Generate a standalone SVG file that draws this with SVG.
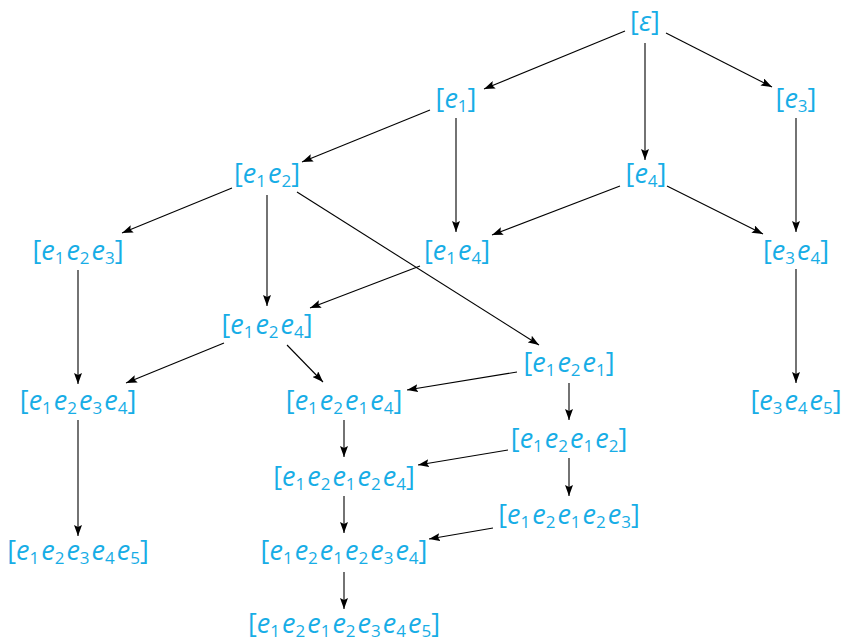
<svg xmlns="http://www.w3.org/2000/svg" width="843" height="643" viewBox="0 0 843 643">
  <style>
    .lbl { font-family: "Open Sans", "Noto Sans", sans-serif; font-size: 27px; fill: #17ADE6; text-anchor: middle; }
    .v { font-style: italic; }
    .s { font-size: 17px; }
    .edge { stroke: #000; stroke-width: 1.1; fill: none; marker-end: url(#tip); }
  </style>
  <defs>
    <marker id="tip" markerUnits="userSpaceOnUse" markerWidth="11" markerHeight="8" refX="11" refY="4" orient="auto">
      <path d="M0,0 L11,4 L0,8 L2,4 z" fill="#000"/>
    </marker>
  </defs>

  <g id="connectors">
    <path class="edge" d="M625,31 L484,89"/>
    <path class="edge" d="M645,43 L645,160"/>
    <path class="edge" d="M666,33 L772,87"/>
    <path class="edge" d="M430,110 L302,162"/>
    <path class="edge" d="M456,118 L456,232"/>
    <path class="edge" d="M796,118 L796,232"/>
    <path class="edge" d="M620,186 L492,235"/>
    <path class="edge" d="M667,186 L763,234"/>
    <path class="edge" d="M232,188 L122,233"/>
    <path class="edge" d="M267,195 L267,306"/>
    <path class="edge" d="M297,192 L539,345"/>
    <path class="edge" d="M420,266 L310,308"/>
    <path class="edge" d="M796,269 L796,383"/>
    <path class="edge" d="M78,270 L78,384"/>
    <path class="edge" d="M224,343 L126,383"/>
    <path class="edge" d="M287,345 L323,382"/>
    <path class="edge" d="M517,372 L407,390"/>
    <path class="edge" d="M569,383 L569,420"/>
    <path class="edge" d="M78,420 L78,536"/>
    <path class="edge" d="M344,420 L344,457"/>
    <path class="edge" d="M508,450 L418,465"/>
    <path class="edge" d="M569,458 L569,496"/>
    <path class="edge" d="M344,496 L344,533"/>
    <path class="edge" d="M493,528 L429,539"/>
    <path class="edge" d="M344,572 L344,609"/>
  </g>

  <g id="n-eps"><text class="lbl" x="645" y="31">[<tspan class="v">ε</tspan>]</text></g>
  <g id="n-e1"><text class="lbl" x="456" y="108">[<tspan class="v">e</tspan><tspan class="s" dy="4">1</tspan><tspan dy="-4">]</tspan></text></g>
  <g id="n-e3"><text class="lbl" x="796" y="108">[<tspan class="v">e</tspan><tspan class="s" dy="4">3</tspan><tspan dy="-4">]</tspan></text></g>
  <g id="n-e4"><text class="lbl" x="646" y="183">[<tspan class="v">e</tspan><tspan class="s" dy="4">4</tspan><tspan dy="-4">]</tspan></text></g>
  <g id="n-e1e2"><text class="lbl" x="267" y="183">[<tspan class="v">e</tspan><tspan class="s" dy="4">1</tspan><tspan class="v" dx="2" dy="-4">e</tspan><tspan class="s" dy="4">2</tspan><tspan dy="-4">]</tspan></text></g>
  <g id="n-e1e2e3"><text class="lbl" x="78" y="260">[<tspan class="v">e</tspan><tspan class="s" dy="4">1</tspan><tspan class="v" dx="2" dy="-4">e</tspan><tspan class="s" dy="4">2</tspan><tspan class="v" dx="2" dy="-4">e</tspan><tspan class="s" dy="4">3</tspan><tspan dy="-4">]</tspan></text></g>
  <g id="n-e1e4"><text class="lbl" x="457" y="260">[<tspan class="v">e</tspan><tspan class="s" dy="4">1</tspan><tspan class="v" dx="2" dy="-4">e</tspan><tspan class="s" dy="4">4</tspan><tspan dy="-4">]</tspan></text></g>
  <g id="n-e3e4"><text class="lbl" x="796" y="260">[<tspan class="v">e</tspan><tspan class="s" dy="4">3</tspan><tspan class="v" dx="2" dy="-4">e</tspan><tspan class="s" dy="4">4</tspan><tspan dy="-4">]</tspan></text></g>
  <g id="n-e1e2e4"><text class="lbl" x="267" y="334">[<tspan class="v">e</tspan><tspan class="s" dy="4">1</tspan><tspan class="v" dx="2" dy="-4">e</tspan><tspan class="s" dy="4">2</tspan><tspan class="v" dx="2" dy="-4">e</tspan><tspan class="s" dy="4">4</tspan><tspan dy="-4">]</tspan></text></g>
  <g id="n-e1e2e1"><text class="lbl" x="569" y="372">[<tspan class="v">e</tspan><tspan class="s" dy="4">1</tspan><tspan class="v" dx="2" dy="-4">e</tspan><tspan class="s" dy="4">2</tspan><tspan class="v" dx="2" dy="-4">e</tspan><tspan class="s" dy="4">1</tspan><tspan dy="-4">]</tspan></text></g>
  <g id="n-e1e2e3e4"><text class="lbl" x="78" y="410">[<tspan class="v">e</tspan><tspan class="s" dy="4">1</tspan><tspan class="v" dx="2" dy="-4">e</tspan><tspan class="s" dy="4">2</tspan><tspan class="v" dx="2" dy="-4">e</tspan><tspan class="s" dy="4">3</tspan><tspan class="v" dx="2" dy="-4">e</tspan><tspan class="s" dy="4">4</tspan><tspan dy="-4">]</tspan></text></g>
  <g id="n-e1e2e1e4"><text class="lbl" x="344" y="410">[<tspan class="v">e</tspan><tspan class="s" dy="4">1</tspan><tspan class="v" dx="2" dy="-4">e</tspan><tspan class="s" dy="4">2</tspan><tspan class="v" dx="2" dy="-4">e</tspan><tspan class="s" dy="4">1</tspan><tspan class="v" dx="2" dy="-4">e</tspan><tspan class="s" dy="4">4</tspan><tspan dy="-4">]</tspan></text></g>
  <g id="n-e3e4e5"><text class="lbl" x="796" y="410">[<tspan class="v">e</tspan><tspan class="s" dy="4">3</tspan><tspan class="v" dx="2" dy="-4">e</tspan><tspan class="s" dy="4">4</tspan><tspan class="v" dx="2" dy="-4">e</tspan><tspan class="s" dy="4">5</tspan><tspan dy="-4">]</tspan></text></g>
  <g id="n-e1e2e1e2"><text class="lbl" x="569" y="448">[<tspan class="v">e</tspan><tspan class="s" dy="4">1</tspan><tspan class="v" dx="2" dy="-4">e</tspan><tspan class="s" dy="4">2</tspan><tspan class="v" dx="2" dy="-4">e</tspan><tspan class="s" dy="4">1</tspan><tspan class="v" dx="2" dy="-4">e</tspan><tspan class="s" dy="4">2</tspan><tspan dy="-4">]</tspan></text></g>
  <g id="n-e1e2e1e2e4"><text class="lbl" x="344" y="486">[<tspan class="v">e</tspan><tspan class="s" dy="4">1</tspan><tspan class="v" dx="2" dy="-4">e</tspan><tspan class="s" dy="4">2</tspan><tspan class="v" dx="2" dy="-4">e</tspan><tspan class="s" dy="4">1</tspan><tspan class="v" dx="2" dy="-4">e</tspan><tspan class="s" dy="4">2</tspan><tspan class="v" dx="2" dy="-4">e</tspan><tspan class="s" dy="4">4</tspan><tspan dy="-4">]</tspan></text></g>
  <g id="n-e1e2e1e2e3"><text class="lbl" x="569" y="524">[<tspan class="v">e</tspan><tspan class="s" dy="4">1</tspan><tspan class="v" dx="2" dy="-4">e</tspan><tspan class="s" dy="4">2</tspan><tspan class="v" dx="2" dy="-4">e</tspan><tspan class="s" dy="4">1</tspan><tspan class="v" dx="2" dy="-4">e</tspan><tspan class="s" dy="4">2</tspan><tspan class="v" dx="2" dy="-4">e</tspan><tspan class="s" dy="4">3</tspan><tspan dy="-4">]</tspan></text></g>
  <g id="n-e1e2e3e4e5"><text class="lbl" x="78" y="560">[<tspan class="v">e</tspan><tspan class="s" dy="4">1</tspan><tspan class="v" dx="2" dy="-4">e</tspan><tspan class="s" dy="4">2</tspan><tspan class="v" dx="2" dy="-4">e</tspan><tspan class="s" dy="4">3</tspan><tspan class="v" dx="2" dy="-4">e</tspan><tspan class="s" dy="4">4</tspan><tspan class="v" dx="2" dy="-4">e</tspan><tspan class="s" dy="4">5</tspan><tspan dy="-4">]</tspan></text></g>
  <g id="n-e1e2e1e2e3e4"><text class="lbl" x="344" y="560">[<tspan class="v">e</tspan><tspan class="s" dy="4">1</tspan><tspan class="v" dx="2" dy="-4">e</tspan><tspan class="s" dy="4">2</tspan><tspan class="v" dx="2" dy="-4">e</tspan><tspan class="s" dy="4">1</tspan><tspan class="v" dx="2" dy="-4">e</tspan><tspan class="s" dy="4">2</tspan><tspan class="v" dx="2" dy="-4">e</tspan><tspan class="s" dy="4">3</tspan><tspan class="v" dx="2" dy="-4">e</tspan><tspan class="s" dy="4">4</tspan><tspan dy="-4">]</tspan></text></g>
  <g id="n-e1e2e1e2e3e4e5"><text class="lbl" x="344" y="633">[<tspan class="v">e</tspan><tspan class="s" dy="4">1</tspan><tspan class="v" dx="2" dy="-4">e</tspan><tspan class="s" dy="4">2</tspan><tspan class="v" dx="2" dy="-4">e</tspan><tspan class="s" dy="4">1</tspan><tspan class="v" dx="2" dy="-4">e</tspan><tspan class="s" dy="4">2</tspan><tspan class="v" dx="2" dy="-4">e</tspan><tspan class="s" dy="4">3</tspan><tspan class="v" dx="2" dy="-4">e</tspan><tspan class="s" dy="4">4</tspan><tspan class="v" dx="2" dy="-4">e</tspan><tspan class="s" dy="4">5</tspan><tspan dy="-4">]</tspan></text></g>
</svg>
